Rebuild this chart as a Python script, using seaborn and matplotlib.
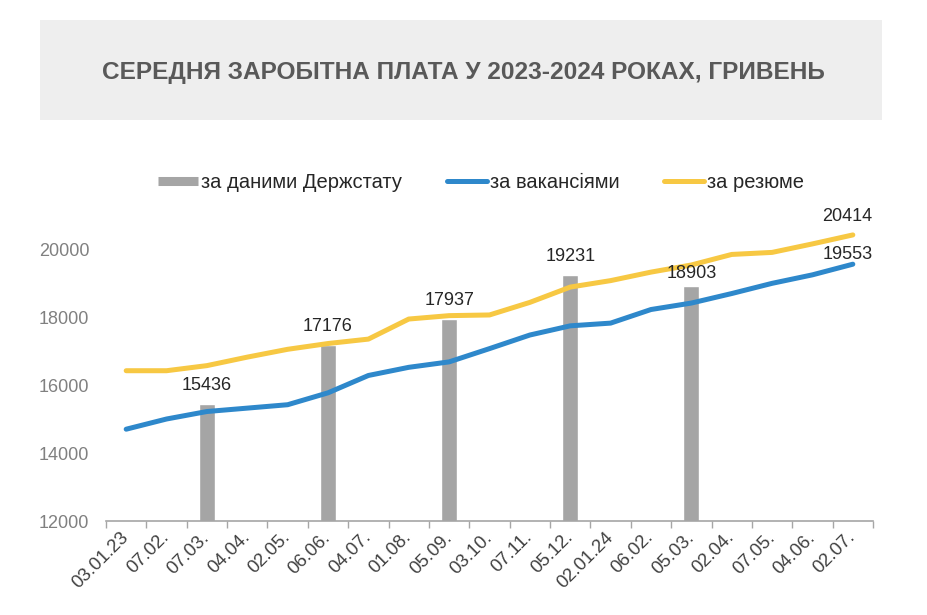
import numpy as np
import pandas as pd
import matplotlib
matplotlib.use("Agg")
import matplotlib.pyplot as plt
import seaborn as sns
from matplotlib.lines import Line2D
from matplotlib.patches import Rectangle

# ---------------- data ----------------
dates = ["03.01.23", "07.02.", "07.03.", "04.04.", "02.05.", "06.06.", "04.07.",
         "01.08.", "05.09.", "03.10.", "07.11.", "05.12.", "02.01.24", "06.02.",
         "05.03.", "02.04.", "07.05.", "04.06.", "02.07."]
stat_dates = ["07.03.", "06.06.", "05.09.", "05.12.", "05.03."]
stat_values = [15436, 17176, 17937, 19231, 18903]
vacancies = [14700, 15000, 15220, 15320, 15420, 15770, 16280, 16520, 16680, 17070,
             17470, 17740, 17820, 18220, 18410, 18690, 18990, 19240, 19553]
resumes = [16420, 16420, 16570, 16820, 17050, 17220, 17350, 17940, 18040, 18060,
           18430, 18880, 19070, 19320, 19530, 19840, 19900, 20150, 20414]
yticks = [12000, 14000, 16000, 18000, 20000]

title = "СЕРЕДНЯ ЗАРОБІТНА ПЛАТА У 2023-2024 РОКАХ, ГРИВЕНЬ"
legend_labels = ["за даними Держстату", "за вакансіями", "за резюме"]

GRAY = "#A5A5A5"
BLUE = "#2E88CB"
YELLOW = "#F7C843"

# ---------------- style ----------------
sns.set_theme(style="white")
plt.rcParams["font.family"] = ["Liberation Sans", "DejaVu Sans"]

fig = plt.figure(figsize=(9.27, 6.15), dpi=100)
W, H = 927, 615
ax = fig.add_axes([106 / W, 94 / H, (873 - 106) / W, (521 - 215) / H])

# title box
fig.patches.append(Rectangle((40 / W, 1 - 120 / H), 842 / W, 100 / H,
                             transform=fig.transFigure, facecolor="#EEEEEE",
                             edgecolor="none", zorder=0))
fig.text(463 / W, 1 - 72 / H, title, ha="center", va="center", fontsize=17.6,
         fontweight="bold", color="#595959")

# ---------------- plot ----------------
df_bar = pd.DataFrame({"date": stat_dates, "value": stat_values})
df_line = pd.DataFrame({"pos": np.arange(len(dates)), "date": dates,
                        "vac": vacancies, "res": resumes})

sns.barplot(data=df_bar, x="date", y="value", order=dates, color=GRAY,
            saturation=1, width=0.4, ax=ax, zorder=2)
sns.lineplot(data=df_line, x="pos", y="res", color=YELLOW, lw=3.6, ax=ax,
             zorder=3, solid_capstyle="round", solid_joinstyle="round")
sns.lineplot(data=df_line, x="pos", y="vac", color=BLUE, lw=3.6, ax=ax,
             zorder=4, solid_capstyle="round", solid_joinstyle="round")

ax.set_xlabel("")
ax.set_ylabel("")
ax.set_xlim(-0.5, len(dates) - 0.5)
ax.set_ylim(12000, 21000)
ax.set_yticks(yticks)
ax.set_yticklabels([str(v) for v in yticks])
ax.set_xticks(np.arange(len(dates)))
ax.set_xticklabels(dates, rotation=45, ha="right", va="center",
                   rotation_mode="anchor")
ax.set_xticks(np.arange(-0.5, len(dates), 1), minor=True)
ax.tick_params(axis="x", which="major", length=0, pad=10, labelsize=13.3,
               labelcolor="#404040")
ax.tick_params(axis="x", which="minor", length=5, width=1, color="#A6A6A6",
               direction="out", bottom=True)
ax.tick_params(axis="y", length=0, pad=12, labelsize=13, labelcolor="#808080")

for s in ["top", "right", "left"]:
    ax.spines[s].set_visible(False)
ax.spines["bottom"].set_color("#A6A6A6")
ax.spines["bottom"].set_linewidth(1.2)
ax.grid(False)

# data labels
label_offsets = [7, 7, 7, 7, 3]
for d, v, off in zip(stat_dates, stat_values, label_offsets):
    ax.annotate(str(v), (dates.index(d), v), xytext=(0, off),
                textcoords="offset points", ha="center", va="bottom",
                fontsize=13, color="#262626", zorder=6)
ax.annotate(str(resumes[-1]), (len(dates) - 1, resumes[-1]), xytext=(-4, 7),
            textcoords="offset points", ha="center", va="bottom",
            fontsize=13, color="#262626", zorder=6)
ax.annotate(str(vacancies[-1]), (len(dates) - 1, vacancies[-1]), xytext=(-4, 1),
            textcoords="offset points", ha="center", va="bottom",
            fontsize=13, color="#262626", zorder=6)

# legend
handles = [
    Line2D([0], [0], color=GRAY, lw=6.5, solid_capstyle="butt"),
    Line2D([0], [0], color=BLUE, lw=3.6, solid_capstyle="round"),
    Line2D([0], [0], color=YELLOW, lw=3.6, solid_capstyle="round"),
]
fig.legend(handles, legend_labels, loc="center", bbox_to_anchor=(481 / W, 1 - 183 / H),
           ncol=3, frameon=False, fontsize=14.5, handlelength=2.0,
           handletextpad=0.15, columnspacing=2.2, labelcolor="#262626")

fig.savefig("out.png", dpi=100)
